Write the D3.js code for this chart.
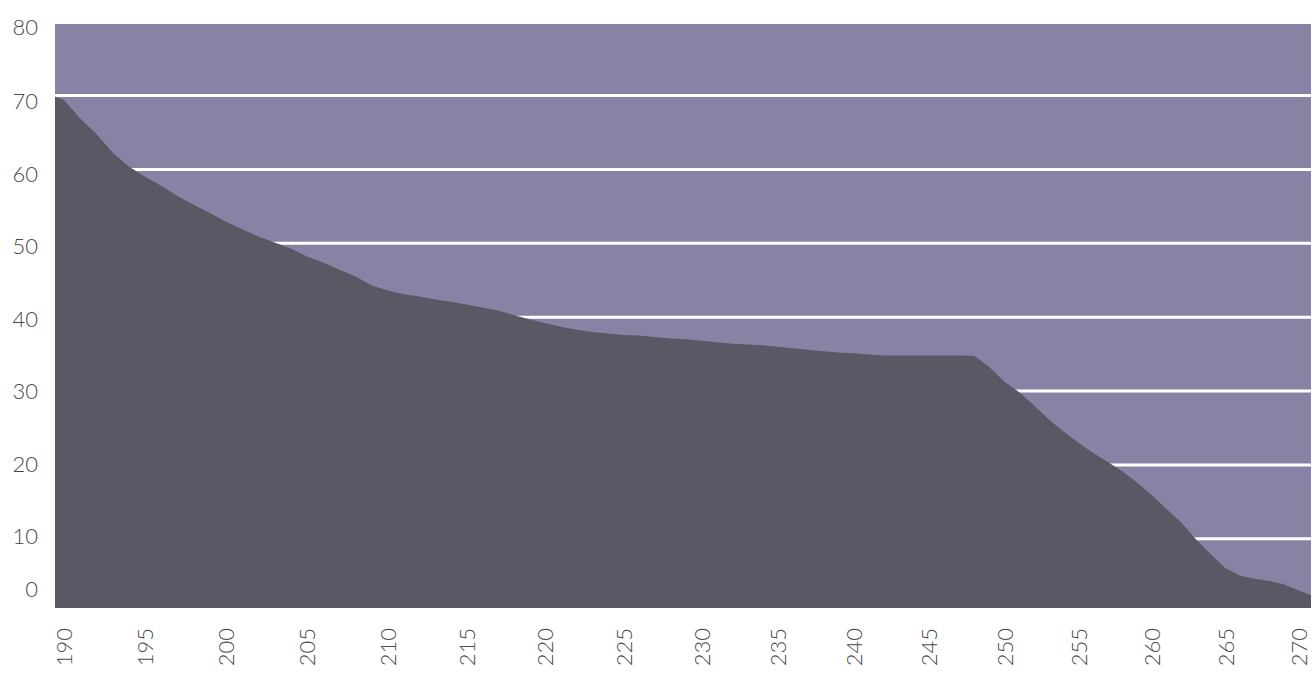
<!DOCTYPE html>
<html>
<head>
<meta charset="utf-8">
<script src="https://cdn.jsdelivr.net/npm/d3@7"></script>
<style>
  html, body { margin: 0; padding: 0; background: #ffffff; }
  svg { display: block; }
  .tick text { font-family: "Lato", "Open Sans", sans-serif; font-weight: 300; font-size: 22px; fill: #4a4a4a; }
</style>
</head>
<body>
<svg id="chart" width="1314" height="675"></svg>
<script>
// ---- data ----
const xValues = [189.4,190,191,192,193,194,195,196,197,198,199,200,201,202,203,204,205,206,207,208,209,
  210,211,212,213,214,215,216,217,218,219,220,221,222,223,224,225,226,227,228,229,
  230,231,232,233,234,235,236,237,238,239,240,241,242,243,244,245,246,247,248,249,
  250,251,252,253,254,255,256,257,258,259,260,261,262,263,264,265,266,267,268,269,270,270.9];
const seriesValues = [69.9,69.4,66.9,64.8,62.3,60.4,59.0,57.8,56.4,55.2,54.1,52.9,51.9,50.9,50.1,49.3,48.2,47.4,46.4,45.5,44.3,
  43.6,43.1,42.8,42.4,42.1,41.7,41.3,40.9,40.3,39.7,39.2,38.7,38.3,38.0,37.8,37.6,37.5,37.3,37.1,37.0,
  36.8,36.6,36.4,36.3,36.2,36.0,35.8,35.6,35.4,35.2,35.1,34.95,34.8,34.8,34.8,34.8,34.8,34.8,34.75,33.2,
  31.2,29.8,28.0,26.1,24.5,23.0,21.6,20.4,19.1,17.6,15.9,14.0,12.2,9.9,7.9,6.0,5.0,4.6,4.3,3.8,3.0,2.3];
const xTickLabels = [190,195,200,205,210,215,220,225,230,235,240,245,250,255,260,265,270];
const yTickLabels = [0,10,20,30,40,50,60,70,80];
const gridValues = [10,20,30,40,50,60,70];

const data = xValues.map((x, i) => ({ x, v: seriesValues[i] }));

// ---- layout ----
const svg = d3.select("#chart");
const plot = { left: 55, right: 1311, top: 24, bottom: 608 };

// the original's horizontal axis is slightly compressed towards the right
const x = d3.scaleLinear().domain([190, 210, 230, 250, 270]).range([64, 388, 702, 1005, 1299]);
const y = d3.scaleLinear().domain([0, 80]).range([612.7, 21.6]);
// label positions of the original are slightly compressed relative to the gridlines
const yLabel = d3.scaleLinear().domain([0, 10, 70, 80]).range([589, 536, 101, 27]);

svg.append("defs").append("clipPath").attr("id", "plotClip")
  .append("rect")
  .attr("x", plot.left).attr("y", plot.top)
  .attr("width", plot.right - plot.left).attr("height", plot.bottom - plot.top);

const g = svg.append("g").attr("clip-path", "url(#plotClip)");

// background
g.append("rect")
  .attr("x", plot.left).attr("y", plot.top)
  .attr("width", plot.right - plot.left).attr("height", plot.bottom - plot.top)
  .attr("fill", "#8683a4");

// gridlines (drawn under the area)
g.append("g").selectAll("line").data(gridValues).join("line")
  .attr("x1", plot.left).attr("x2", plot.right)
  .attr("y1", d => y(d)).attr("y2", d => y(d))
  .attr("stroke", "#ffffff").attr("stroke-width", 3);

// area
const area = d3.area()
  .x(d => x(d.x))
  .y0(plot.bottom)
  .y1(d => y(d.v));

g.append("path")
  .datum(data)
  .attr("d", area)
  .attr("fill", "#595865");

// y axis labels
const yAxis = d3.axisLeft(yLabel).tickValues(yTickLabels).tickSize(0).tickPadding(0).tickFormat(d3.format("d"));
const gy = svg.append("g").attr("transform", "translate(38,0)").call(yAxis);
gy.select(".domain").remove();
gy.selectAll(".tick text").attr("dy", "0.35em").attr("x", 0);

// x axis labels (rotated)
const xAxis = d3.axisBottom(x).tickValues(xTickLabels).tickSize(0).tickFormat(d3.format("d"));
const gx = svg.append("g").attr("transform", "translate(0,628)").call(xAxis);
gx.select(".domain").remove();
gx.selectAll(".tick text")
  .attr("transform", "rotate(-90)")
  .attr("text-anchor", "end")
  .attr("x", 0).attr("y", 0)
  .attr("dy", "0.35em");
</script>
</body>
</html>
